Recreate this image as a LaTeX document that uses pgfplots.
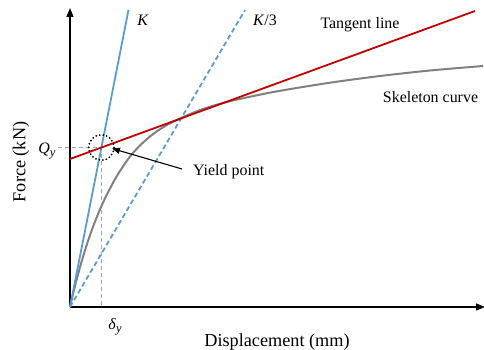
\documentclass[border=0pt]{standalone}
\usepackage{pgfplots}
\pgfplotsset{compat=1.18}
\usepackage{fontspec}
\setmainfont{Liberation Serif}
\newfontfamily\tnr{Liberation Serif}
\usetikzlibrary{arrows.meta}
\definecolor{kblue}{HTML}{5B9BD5}
\definecolor{tred}{HTML}{C00000}
\definecolor{sgray}{HTML}{808080}
\definecolor{dgray}{HTML}{A6A6A6}
\tikzset{lab/.style={font=\tnr\fontsize{16}{19}\selectfont, inner sep=0pt},
         big/.style={font=\tnr\fontsize{18.3}{21}\selectfont, inner sep=0pt}}
\begin{document}
\begin{tikzpicture}
\begin{axis}[
 scale only axis, width=415bp, height=299bp,
 xmin=0, xmax=415, ymin=0, ymax=299,
 axis lines=left,
 axis line style={line width=1.4pt, -{Triangle[length=9pt,width=7pt]}},
 ticks=none, clip=false,
]
% guide lines
\addplot[dgray, line width=1.2pt, dash pattern=on 4pt off 3pt] coordinates {(-12,159.5) (31.4,159.5)};
\addplot[dgray, line width=1.2pt, dash pattern=on 4pt off 3pt] coordinates {(31.4,159.5) (31.4,0)};
% skeleton curve
\addplot[sgray, line width=2pt, smooth, tension=0.5] coordinates {
 (0,0) (5,21) (10,39.8) (15,56.7) (20,71.8) (25,85.4) (30,97.6) (35,108.6) (40,118.5) (45,127.8) (50,136) (60,150.5) (70,161.5) (80,170.5) (90,177.8) (100,183.6) (110,188.5) (125,195) (140,200.3) (160,205.8) (185,211.3) (210,216.2) (260,224.3) (310,231) (360,236.5) (413,241)};
% K
\addplot[kblue, line width=1.8pt] coordinates {(0,0) (58.5,297)};
% K/3
\addplot[kblue, line width=1.8pt, dash pattern=on 5pt off 3pt] coordinates {(0,0) (175,297)};
% tangent
\addplot[tred, line width=1.8pt] coordinates {(0,148) (405,296)};
% yield point circle
\addplot[only marks, mark=o, mark size=12.7bp, mark options={black, line width=2pt, line cap=round, dash pattern=on 0pt off 3.6pt}] coordinates {(31.4,159.5)};
% arrow
\draw[-{Triangle[length=8pt,width=6pt]}, line width=1.1pt] (axis cs:112,138) -- (axis cs:42,158.5);
% labels
\node[lab] at (axis cs:73,287) {\textit{K}};
\node[lab] at (axis cs:195,287) {\textit{K}/3};
\node[lab] at (axis cs:290,282) {Tangent line};
\node[lab] at (axis cs:360.5,210) {Skeleton curve};
\node[lab] at (axis cs:158.7,135.3) {Yield point};
\node[lab] at (axis cs:-23,156) {\textit{Q}\raisebox{-0.4ex}{\fontsize{12.5}{14}\selectfont\textit{y}}};
\node[lab] at (axis cs:45,-20) {\textit{δ}\raisebox{-0.4ex}{\fontsize{12.5}{14}\selectfont\textit{y}}};
\node[big, rotate=90] at (axis cs:-49,145) {Force (kN)};
\node[big] at (axis cs:207,-35) {Displacement (mm)};
\coordinate (BL) at (axis cs:-70,-43);
\coordinate (TR) at (axis cs:414,307);
\end{axis}
\pgfresetboundingbox
\useasboundingbox (BL) rectangle (TR);
\end{tikzpicture}
\end{document}
